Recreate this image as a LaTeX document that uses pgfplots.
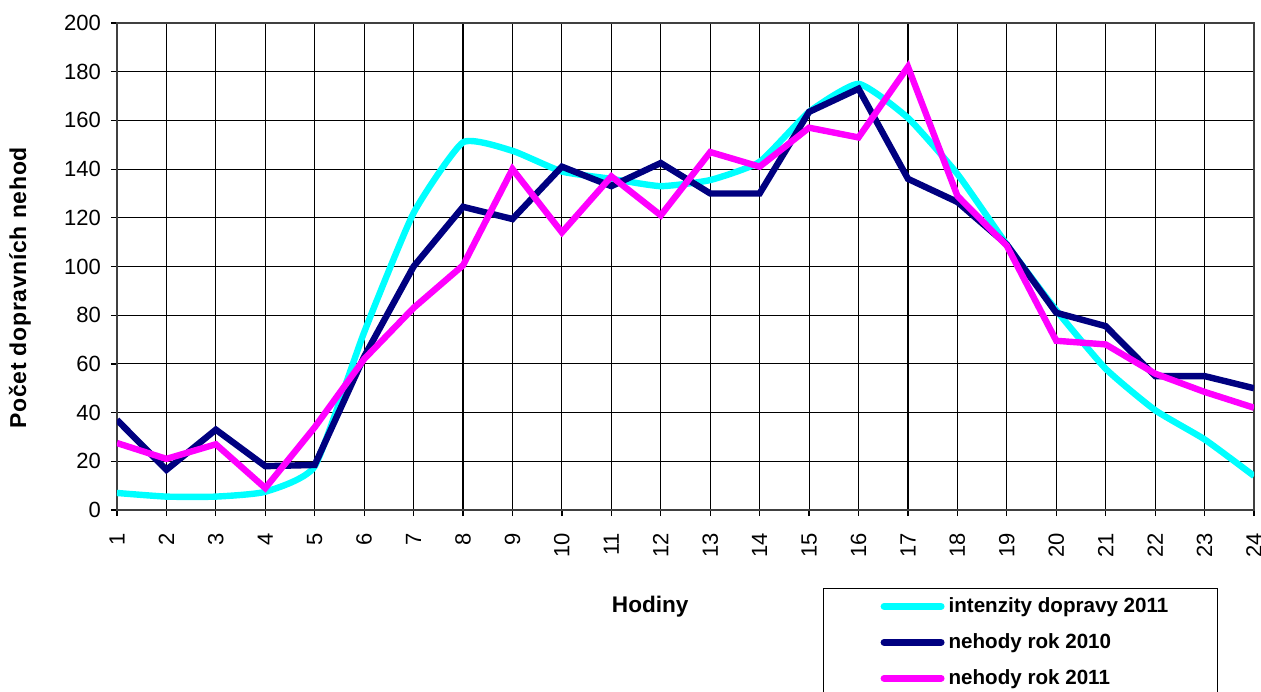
\documentclass[border=0pt]{standalone}
\usepackage{pgfplots}
\pgfplotsset{compat=1.18}
\usepackage{fontspec}
\setmainfont{Liberation Sans}
\newfontfamily\labfont[LetterSpace=3]{Liberation Sans}
\definecolor{cy}{RGB}{0,255,255}
\definecolor{nv}{RGB}{0,0,128}
\definecolor{mg}{RGB}{255,0,255}
\begin{document}
\begin{tikzpicture}
\path[use as bounding box] (-58.5pt,-90.5pt) rectangle (572pt,255pt);
\begin{axis}[
 at={(0,0)}, anchor=south west, scale only axis,
 width=568.5pt, height=243.5pt,
 xmin=1, xmax=24, ymin=0, ymax=200,
 xtick={1,...,24}, ytick={0,20,...,200},
 grid=major, major grid style={black, line width=0.55pt},
 axis line style={black!75, line width=0.8pt},
 tick pos=left, tick align=outside, major tick length=3pt,
 tick style={black, line width=0.6pt},
 ticklabel style={font=\fontsize{11}{13}\selectfont},
 /pgf/number format/assume math mode=true,
 xticklabel style={rotate=90, anchor=east, xshift=-5pt},
 yticklabel style={xshift=-1.5pt},
 ylabel={Počet dopravních nehod},
 ylabel style={font=\labfont\bfseries\fontsize{11.5}{13}\selectfont, at={(axis description cs:-0.0853,0.456)}, anchor=center},
 xlabel={Hodiny},
 xlabel style={font=\bfseries\fontsize{11.3}{13}\selectfont, at={(axis description cs:0.469,-0.199)}, anchor=center},
 legend style={at={(axis description cs:0.621,-0.160)}, anchor=north west, draw=black, line width=0.5pt,
   inner xsep=28.5pt, inner ysep=2.5pt, font=\bfseries\fontsize{10.3}{12}\selectfont, row sep=5pt, cells={anchor=west},
   /tikz/every even column/.append style={column sep=2.5pt}},
 legend image code/.code={\draw[#1, line width=3.5pt, line cap=round] (0pt,0pt) -- (28.5pt,0pt);},
]
\addplot[cy, line width=3.2pt, smooth, tension=0.3] coordinates {
(1,7) (2,5.5) (3,5.5) (4,7.5) (5,18) (6,73) (7,122) (8,151) (9,147.5) (10,139) (11,136) (12,133)
(13,135.5) (14,143) (15,163.5) (16,175) (17,161) (18,138) (19,109) (20,82) (21,58) (22,41) (23,29) (24,14)};
\addlegendentry{\makebox[104pt][l]{intenzity dopravy 2011}}
\addplot[nv, line width=3.2pt] coordinates {
(1,37) (2,16.5) (3,33) (4,18) (5,18.5) (6,63) (7,100) (8,124.5) (9,119.5) (10,141) (11,133) (12,142.5)
(13,130) (14,130) (15,163.5) (16,173) (17,136) (18,126.5) (19,109) (20,81) (21,75.5) (22,55) (23,55) (24,50)};
\addlegendentry{nehody rok 2010}
\addplot[mg, line width=3.2pt] coordinates {
(1,27.5) (2,21) (3,27) (4,9) (5,34) (6,62) (7,83) (8,100.5) (9,140) (10,114) (11,137) (12,121)
(13,147) (14,141) (15,157) (16,153) (17,182) (18,129) (19,108.5) (20,69.5) (21,68) (22,56) (23,48.5) (24,42)};
\addlegendentry{nehody rok 2011}
\end{axis}
\end{tikzpicture}
\end{document}
